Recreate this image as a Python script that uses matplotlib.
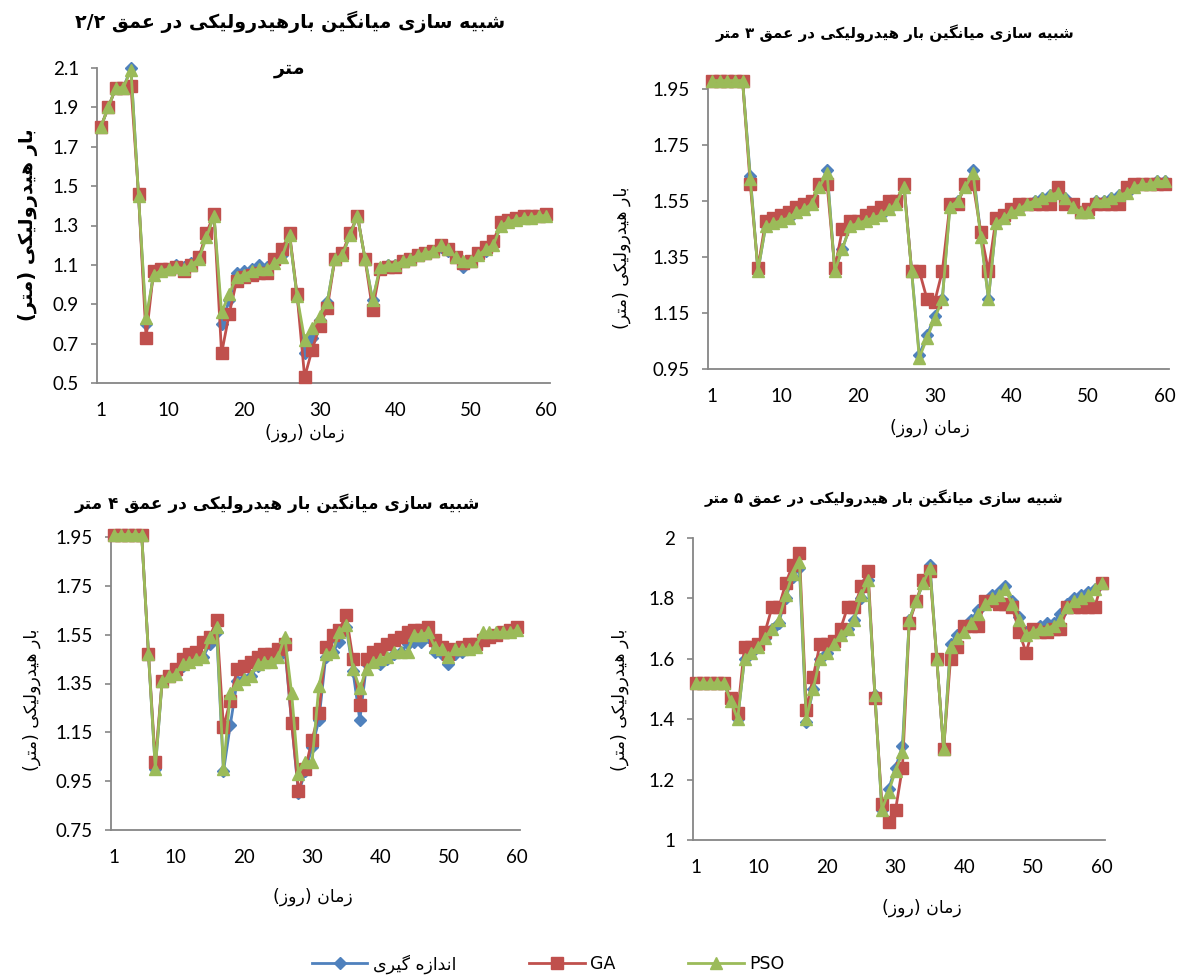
import matplotlib
matplotlib.use("Agg")
import matplotlib.pyplot as plt

# ---------------- data ----------------
days = list(range(1, 61))

meas1 = [1.80, 1.90, 2.00, 2.00, 2.10, 1.45, 0.80, 1.06, 1.08, 1.08,
         1.10, 1.09, 1.11, 1.14, 1.25, 1.35, 0.80, 0.92, 1.06, 1.07,
         1.08, 1.10, 1.09, 1.12, 1.15, 1.25, 0.94, 0.65, 0.73, 0.82,
         0.91, 1.13, 1.15, 1.25, 1.35, 1.13, 0.92, 1.08, 1.10, 1.10,
         1.12, 1.13, 1.15, 1.16, 1.17, 1.19, 1.17, 1.14, 1.09, 1.12,
         1.15, 1.17, 1.20, 1.30, 1.32, 1.33, 1.34, 1.34, 1.35, 1.35]
ga1 = [1.80, 1.90, 2.00, 2.00, 2.01, 1.46, 0.73, 1.07, 1.08, 1.08,
       1.09, 1.07, 1.10, 1.14, 1.26, 1.36, 0.65, 0.85, 1.02, 1.04,
       1.05, 1.06, 1.06, 1.13, 1.18, 1.26, 0.95, 0.53, 0.67, 0.79,
       0.88, 1.13, 1.16, 1.26, 1.35, 1.13, 0.87, 1.08, 1.09, 1.09,
       1.12, 1.13, 1.15, 1.16, 1.17, 1.20, 1.18, 1.14, 1.11, 1.12,
       1.16, 1.19, 1.22, 1.32, 1.33, 1.34, 1.35, 1.35, 1.35, 1.36]
pso1 = [1.80, 1.90, 2.00, 2.00, 2.09, 1.45, 0.83, 1.05, 1.07, 1.08,
        1.09, 1.08, 1.10, 1.13, 1.24, 1.35, 0.86, 0.95, 1.04, 1.05,
        1.07, 1.08, 1.08, 1.11, 1.14, 1.25, 0.94, 0.72, 0.78, 0.84,
        0.91, 1.13, 1.15, 1.25, 1.35, 1.13, 0.92, 1.09, 1.10, 1.10,
        1.12, 1.13, 1.15, 1.16, 1.17, 1.20, 1.18, 1.14, 1.12, 1.12,
        1.15, 1.18, 1.20, 1.30, 1.32, 1.33, 1.34, 1.34, 1.35, 1.35]

meas2 = [1.98, 1.98, 1.98, 1.98, 1.98, 1.64, 1.30, 1.46, 1.47, 1.48,
         1.49, 1.51, 1.52, 1.54, 1.60, 1.66, 1.30, 1.38, 1.46, 1.47,
         1.48, 1.49, 1.50, 1.52, 1.54, 1.61, 1.30, 1.00, 1.07, 1.14,
         1.20, 1.54, 1.55, 1.60, 1.66, 1.43, 1.20, 1.47, 1.49, 1.51,
         1.52, 1.54, 1.55, 1.56, 1.57, 1.58, 1.56, 1.53, 1.51, 1.51,
         1.55, 1.55, 1.56, 1.57, 1.58, 1.60, 1.61, 1.61, 1.62, 1.62]
ga2 = [1.98, 1.98, 1.98, 1.98, 1.98, 1.61, 1.31, 1.48, 1.49, 1.50,
       1.51, 1.53, 1.54, 1.55, 1.61, 1.61, 1.31, 1.45, 1.48, 1.48,
       1.50, 1.51, 1.53, 1.55, 1.55, 1.61, 1.30, 1.30, 1.20, 1.19,
       1.30, 1.54, 1.54, 1.61, 1.61, 1.44, 1.30, 1.49, 1.50, 1.52,
       1.54, 1.54, 1.54, 1.54, 1.54, 1.60, 1.54, 1.54, 1.51, 1.52,
       1.54, 1.54, 1.54, 1.54, 1.60, 1.61, 1.61, 1.61, 1.61, 1.61]
pso2 = [1.98, 1.98, 1.98, 1.98, 1.98, 1.63, 1.30, 1.46, 1.47, 1.48,
        1.49, 1.51, 1.52, 1.54, 1.60, 1.65, 1.30, 1.38, 1.46, 1.47,
        1.48, 1.49, 1.50, 1.52, 1.54, 1.60, 1.30, 0.99, 1.06, 1.13,
        1.20, 1.53, 1.55, 1.60, 1.65, 1.42, 1.20, 1.47, 1.49, 1.51,
        1.52, 1.54, 1.55, 1.56, 1.57, 1.58, 1.56, 1.53, 1.51, 1.51,
        1.55, 1.55, 1.56, 1.57, 1.58, 1.60, 1.61, 1.61, 1.62, 1.62]

meas3 = [1.96, 1.96, 1.96, 1.96, 1.96, 1.47, 1.00, 1.36, 1.38, 1.39,
         1.42, 1.44, 1.45, 1.46, 1.51, 1.56, 0.99, 1.18, 1.36, 1.37,
         1.38, 1.42, 1.44, 1.44, 1.46, 1.50, 1.19, 0.90, 0.99, 1.09,
         1.20, 1.46, 1.48, 1.52, 1.58, 1.40, 1.20, 1.43, 1.44, 1.43,
         1.45, 1.47, 1.48, 1.51, 1.52, 1.52, 1.54, 1.48, 1.47, 1.43,
         1.47, 1.48, 1.49, 1.50, 1.53, 1.54, 1.55, 1.56, 1.56, 1.57]
ga3 = [1.96, 1.96, 1.96, 1.96, 1.96, 1.47, 1.03, 1.36, 1.38, 1.41,
       1.45, 1.47, 1.48, 1.52, 1.54, 1.61, 1.17, 1.28, 1.41, 1.42,
       1.44, 1.46, 1.47, 1.47, 1.49, 1.51, 1.19, 0.91, 1.00, 1.12,
       1.23, 1.50, 1.55, 1.57, 1.63, 1.45, 1.26, 1.45, 1.48, 1.49,
       1.51, 1.53, 1.54, 1.56, 1.57, 1.57, 1.58, 1.53, 1.50, 1.47,
       1.49, 1.50, 1.51, 1.51, 1.53, 1.54, 1.55, 1.56, 1.57, 1.58]
pso3 = [1.96, 1.96, 1.96, 1.96, 1.96, 1.47, 1.00, 1.36, 1.38, 1.39,
        1.43, 1.44, 1.45, 1.46, 1.54, 1.58, 1.00, 1.31, 1.35, 1.37,
        1.38, 1.43, 1.44, 1.44, 1.46, 1.54, 1.31, 0.98, 1.03, 1.03,
        1.34, 1.47, 1.48, 1.56, 1.59, 1.41, 1.33, 1.41, 1.44, 1.45,
        1.46, 1.48, 1.48, 1.48, 1.55, 1.55, 1.56, 1.50, 1.49, 1.46,
        1.49, 1.49, 1.49, 1.50, 1.56, 1.56, 1.56, 1.56, 1.56, 1.57]

meas4 = [1.52, 1.52, 1.52, 1.52, 1.52, 1.46, 1.40, 1.60, 1.62, 1.64,
         1.67, 1.70, 1.72, 1.80, 1.87, 1.90, 1.39, 1.50, 1.60, 1.62,
         1.65, 1.68, 1.70, 1.73, 1.80, 1.86, 1.48, 1.10, 1.17, 1.24,
         1.31, 1.73, 1.79, 1.85, 1.91, 1.60, 1.30, 1.65, 1.68, 1.70,
         1.73, 1.76, 1.79, 1.81, 1.82, 1.84, 1.79, 1.74, 1.69, 1.70,
         1.71, 1.72, 1.72, 1.75, 1.78, 1.80, 1.81, 1.82, 1.83, 1.85]
ga4 = [1.52, 1.52, 1.52, 1.52, 1.52, 1.47, 1.42, 1.64, 1.64, 1.65,
       1.69, 1.77, 1.77, 1.85, 1.91, 1.95, 1.43, 1.54, 1.65, 1.65,
       1.66, 1.70, 1.77, 1.77, 1.84, 1.89, 1.47, 1.12, 1.06, 1.10,
       1.24, 1.72, 1.79, 1.86, 1.89, 1.60, 1.30, 1.60, 1.64, 1.71,
       1.71, 1.71, 1.79, 1.79, 1.78, 1.78, 1.77, 1.69, 1.62, 1.70,
       1.69, 1.69, 1.70, 1.70, 1.77, 1.77, 1.77, 1.77, 1.77, 1.85]
pso4 = [1.52, 1.52, 1.52, 1.52, 1.52, 1.46, 1.40, 1.60, 1.62, 1.64,
        1.67, 1.70, 1.73, 1.81, 1.88, 1.92, 1.40, 1.50, 1.60, 1.62,
        1.65, 1.68, 1.70, 1.73, 1.81, 1.86, 1.48, 1.10, 1.16, 1.23,
        1.29, 1.73, 1.79, 1.85, 1.90, 1.60, 1.30, 1.64, 1.67, 1.69,
        1.72, 1.75, 1.78, 1.80, 1.81, 1.83, 1.78, 1.73, 1.68, 1.69,
        1.70, 1.70, 1.71, 1.73, 1.77, 1.79, 1.80, 1.81, 1.83, 1.85]

xticks = [1, 10, 20, 30, 40, 50, 60]
yticks1 = [0.5, 0.7, 0.9, 1.1, 1.3, 1.5, 1.7, 1.9, 2.1]
yticks2 = [0.95, 1.15, 1.35, 1.55, 1.75, 1.95]
yticks3 = [0.75, 0.95, 1.15, 1.35, 1.55, 1.75, 1.95]
yticks4 = [1.0, 1.2, 1.4, 1.6, 1.8, 2.0]
ytl1 = ["0.5", "0.7", "0.9", "1.1", "1.3", "1.5", "1.7", "1.9", "2.1"]
ytl2 = ["0.95", "1.15", "1.35", "1.55", "1.75", "1.95"]
ytl3 = ["0.75", "0.95", "1.15", "1.35", "1.55", "1.75", "1.95"]
ytl4 = ["1", "1.2", "1.4", "1.6", "1.8", "2"]

title1a = "شبیه سازی میانگین بارهیدرولیکی در عمق ۲/۲"
title1b = "متر"
title2 = "شبیه سازی میانگین بار هیدرولیکی در عمق ۳ متر"
title3 = "شبیه سازی میانگین بار هیدرولیکی در عمق ۴ متر"
title4 = "شبیه سازی میانگین بار هیدرولیکی در عمق ۵ متر"
ylab = "بار هیدرولیکی (متر)"
xlab = "زمان (روز)"
names = ["اندازه گیری", "GA", "PSO"]

# ------------- Arabic shaping (no external libs) -------------
FORMS = {
    '\u0627': ('\uFE8D', '\uFE8E', None, None),
    '\u0628': ('\uFE8F', '\uFE90', '\uFE91', '\uFE92'),
    '\u062A': ('\uFE95', '\uFE96', '\uFE97', '\uFE98'),
    '\u062F': ('\uFEA9', '\uFEAA', None, None),
    '\u0631': ('\uFEAD', '\uFEAE', None, None),
    '\u0632': ('\uFEAF', '\uFEB0', None, None),
    '\u0633': ('\uFEB1', '\uFEB2', '\uFEB3', '\uFEB4'),
    '\u0634': ('\uFEB5', '\uFEB6', '\uFEB7', '\uFEB8'),
    '\u0639': ('\uFEC9', '\uFECA', '\uFECB', '\uFECC'),
    '\u0642': ('\uFED5', '\uFED6', '\uFED7', '\uFED8'),
    '\u0644': ('\uFEDD', '\uFEDE', '\uFEDF', '\uFEE0'),
    '\u0645': ('\uFEE1', '\uFEE2', '\uFEE3', '\uFEE4'),
    '\u0646': ('\uFEE5', '\uFEE6', '\uFEE7', '\uFEE8'),
    '\u0647': ('\uFEE9', '\uFEEA', '\uFEEB', '\uFEEC'),
    '\u0648': ('\uFEED', '\uFEEE', None, None),
    '\u06CC': ('\uFBFC', '\uFBFD', '\uFBFE', '\uFBFF'),
    '\u06A9': ('\uFB8E', '\uFB8F', '\uFB90', '\uFB91'),
    '\u06AF': ('\uFB92', '\uFB93', '\uFB94', '\uFB95'),
}


def fa(text):
    out = []
    n = len(text)
    for i, ch in enumerate(text):
        if ch not in FORMS:
            out.append(ch)
            continue
        prev = text[i - 1] if i > 0 else ''
        nxt = text[i + 1] if i < n - 1 else ''
        jp = prev in FORMS and FORMS[prev][2] is not None
        jn = FORMS[ch][2] is not None and nxt in FORMS
        iso, fin, ini, med = FORMS[ch]
        if jp and jn:
            out.append(med)
        elif jp:
            out.append(fin)
        elif jn:
            out.append(ini)
        else:
            out.append(iso)
    vis = ''.join(reversed(out))
    swap = {'(': ')', ')': '('}
    return ''.join(swap.get(c, c) for c in vis)


# ---------------- figure ----------------
W, H = 1181, 976
fig = plt.figure(figsize=(W / 100, H / 100), dpi=100)

AR = ['DejaVu Sans']
NUM = ['Lato', 'DejaVu Sans']
C_BLUE, C_RED, C_GREEN = '#4F81BD', '#C0504D', '#9BBB59'
SPINE = '#868686'


def rect(x0, x1, ytop, ybot):
    return [x0 / W, 1 - ybot / H, (x1 - x0) / W, (ybot - ytop) / H]


def fx(x):
    return x / W


def fy(y):
    return 1 - y / H


panels = [
    (rect(97, 550, 68, 383), (0.5, 2.1), yticks1, ytl1, meas1, ga1, pso1),
    (rect(708, 1169, 89, 369), (0.95, 1.95), yticks2, ytl2, meas2, ga2, pso2),
    (rect(111, 520, 537, 830), (0.75, 1.95), yticks3, ytl3, meas3, ga3, pso3),
    (rect(693, 1105, 538, 840), (1.0, 2.0), yticks4, ytl4, meas4, ga4, pso4),
]

handles = None
for pos, ylim, yt, ytl, m, g, p in panels:
    ax = fig.add_axes(pos)
    l1, = ax.plot(days, m, color=C_BLUE, lw=2.0, marker='D', ms=6.0,
                  mfc=C_BLUE, mec=C_BLUE, clip_on=False, zorder=3)
    l2, = ax.plot(days, g, color=C_RED, lw=2.0, marker='s', ms=8.5,
                  mfc=C_RED, mec=C_RED, clip_on=False, zorder=4)
    l3, = ax.plot(days, p, color=C_GREEN, lw=2.0, marker='^', ms=9,
                  mfc=C_GREEN, mec=C_GREEN, clip_on=False, zorder=5)
    handles = [l1, l2, l3]
    ax.set_xlim(0.5, 60.5)
    ax.set_ylim(*ylim)
    ax.set_xticks(xticks)
    ax.set_xticklabels([str(t) for t in xticks], family=NUM, fontsize=13.5)
    ax.set_yticks(yt)
    ax.set_yticklabels(ytl, family=NUM, fontsize=13.5)
    for s in ['top', 'right']:
        ax.spines[s].set_visible(False)
    for s in ['left', 'bottom']:
        ax.spines[s].set_color(SPINE)
        ax.spines[s].set_linewidth(1.3)
    ax.tick_params(axis='y', length=4, width=1.2, color=SPINE, pad=9)
    ax.tick_params(axis='x', length=0, pad=14)
    ax.patch.set_alpha(0)

# titles
fig.text(fx(290), fy(22), fa(title1a), family=AR, fontsize=13.7, weight='bold',
         ha='center', va='center')
fig.text(fx(290), fy(68), fa(title1b), family=AR, fontsize=13.7, weight='bold',
         ha='center', va='center')
fig.text(fx(895), fy(33), fa(title2), family=AR, fontsize=10.8, weight='bold',
         ha='center', va='center')
fig.text(fx(277), fy(503), fa(title3), family=AR, fontsize=12.2, weight='bold',
         ha='center', va='center')
fig.text(fx(884), fy(498), fa(title4), family=AR, fontsize=10.8, weight='bold',
         ha='center', va='center')

# y labels
fig.text(fx(28), fy(225), fa(ylab), family=AR, fontsize=14, weight='bold',
         rotation=90, ha='center', va='center')
fig.text(fx(622), fy(258), fa(ylab), family=AR, fontsize=12.5,
         rotation=90, ha='center', va='center')
fig.text(fx(32), fy(700), fa(ylab), family=AR, fontsize=12.5,
         rotation=90, ha='center', va='center')
fig.text(fx(620), fy(700), fa(ylab), family=AR, fontsize=12.5,
         rotation=90, ha='center', va='center')

# x labels
fig.text(fx(305), fy(433), fa(xlab), family=AR, fontsize=12.5, ha='center', va='center')
fig.text(fx(930), fy(428), fa(xlab), family=AR, fontsize=12.5, ha='center', va='center')
fig.text(fx(313), fy(897), fa(xlab), family=AR, fontsize=12.5, ha='center', va='center')
fig.text(fx(922), fy(908), fa(xlab), family=AR, fontsize=12.5, ha='center', va='center')

# legend
leg = fig.legend(handles, [fa(names[0]), names[1], names[2]], loc='center',
                 bbox_to_anchor=(fx(548), fy(964)), ncol=3, frameon=False,
                 handlelength=3.2, handletextpad=0.3, columnspacing=4.2,
                 prop={'family': ['DejaVu Sans'], 'size': 12.5})

fig.savefig('out.png', dpi=100)
